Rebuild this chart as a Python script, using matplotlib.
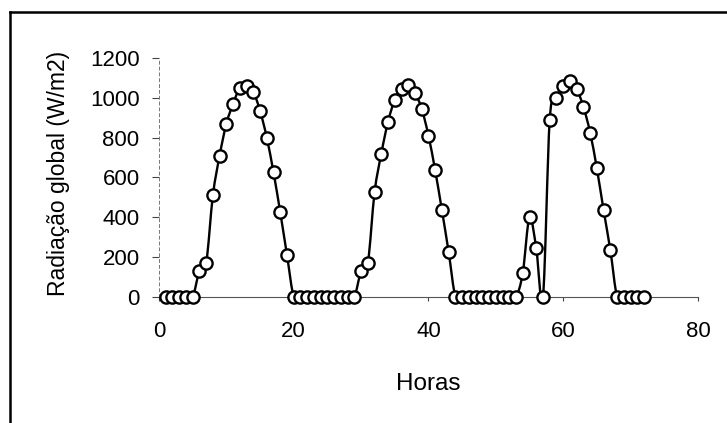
import numpy as np
import matplotlib.pyplot as plt
from matplotlib.path import Path
from matplotlib.patches import PathPatch
from matplotlib.lines import Line2D

plt.rcParams['font.family'] = ['Liberation Sans', 'DejaVu Sans']

# hourly global radiation over three days
horas = list(range(1, 73))
radiacao = [0, 0, 0, 0, 0, 130, 170, 510, 710, 870, 970, 1050, 1060, 1030, 935, 800, 625, 425, 210,
            0, 0, 0, 0, 0, 0, 0, 0, 0, 0,
            130, 170, 525, 720, 880, 990, 1045, 1065, 1025, 945, 810, 635, 435, 225,
            0, 0, 0, 0, 0, 0, 0, 0, 0, 0,
            120, 400, 245, 0, 890, 1000, 1060, 1085, 1045, 955, 825, 645, 435, 235,
            0, 0, 0, 0, 0]

xticks = [0, 20, 40, 60, 80]
yticks = [0, 200, 400, 600, 800, 1000, 1200]


def smooth_path(x, y):
    # Catmull-Rom style bezier segments, like the spreadsheet "smoothed line"
    x = np.asarray(x, float)
    y = np.asarray(y, float)
    n = len(x)
    verts = [(x[0], y[0])]
    codes = [Path.MOVETO]
    for i in range(n - 1):
        i0 = max(i - 1, 0)
        i3 = min(i + 2, n - 1)
        c1 = (x[i] + (x[i + 1] - x[i0]) / 6, y[i] + (y[i + 1] - y[i0]) / 6)
        c2 = (x[i + 1] - (x[i3] - x[i]) / 6, y[i + 1] - (y[i3] - y[i]) / 6)
        verts += [c1, c2, (x[i + 1], y[i + 1])]
        codes += [Path.CURVE4] * 3
    return Path(verts, codes)


fig = plt.figure(figsize=(7.27, 4.23), dpi=100)
ax = fig.add_axes([0.2187, 0.298, 0.7413, 0.565])

ax.add_patch(PathPatch(smooth_path(horas, radiacao), fill=False, edgecolor='black',
                       linewidth=1.7, zorder=2))
ax.plot(horas, radiacao, linestyle='none', marker='o', markersize=8.8,
        markerfacecolor='white', markeredgecolor='black', markeredgewidth=1.7,
        zorder=3, clip_on=False)

ax.set_xlim(0, 80)
ax.set_ylim(0, 1200)
ax.set_xticks(xticks)
ax.set_yticks(yticks)

for s in ['top', 'right']:
    ax.spines[s].set_visible(False)
ax.spines['bottom'].set_color('#555555')
ax.spines['bottom'].set_linewidth(0.8)
ax.spines['left'].set_color('#777777')
ax.spines['left'].set_linewidth(0.7)
ax.spines['left'].set_linestyle((0, (3, 3)))

ax.tick_params(axis='y', direction='out', length=5, width=0.8, color='#444444',
               labelsize=16, pad=9)
ax.tick_params(axis='x', direction='out', length=3, width=0.8, color='#444444',
               labelsize=16, pad=14.3)

# axis titles
ax.set_xlabel('Horas', fontsize=17.5, va='baseline')
ax.xaxis.set_label_coords(0.5, -0.389)
ax.set_ylabel('Radiação global (W/m2)', fontsize=16.5, va='center')
ax.yaxis.set_label_coords(-0.1865, 0.517)

# outer chart frame (left and top edges)
fig.add_artist(Line2D([0.0137, 0.0137], [0, 0.972], color='black', linewidth=1.8))
fig.add_artist(Line2D([0.0137, 1.0], [0.972, 0.972], color='black', linewidth=1.8))

fig.savefig('out.png', dpi=100)
